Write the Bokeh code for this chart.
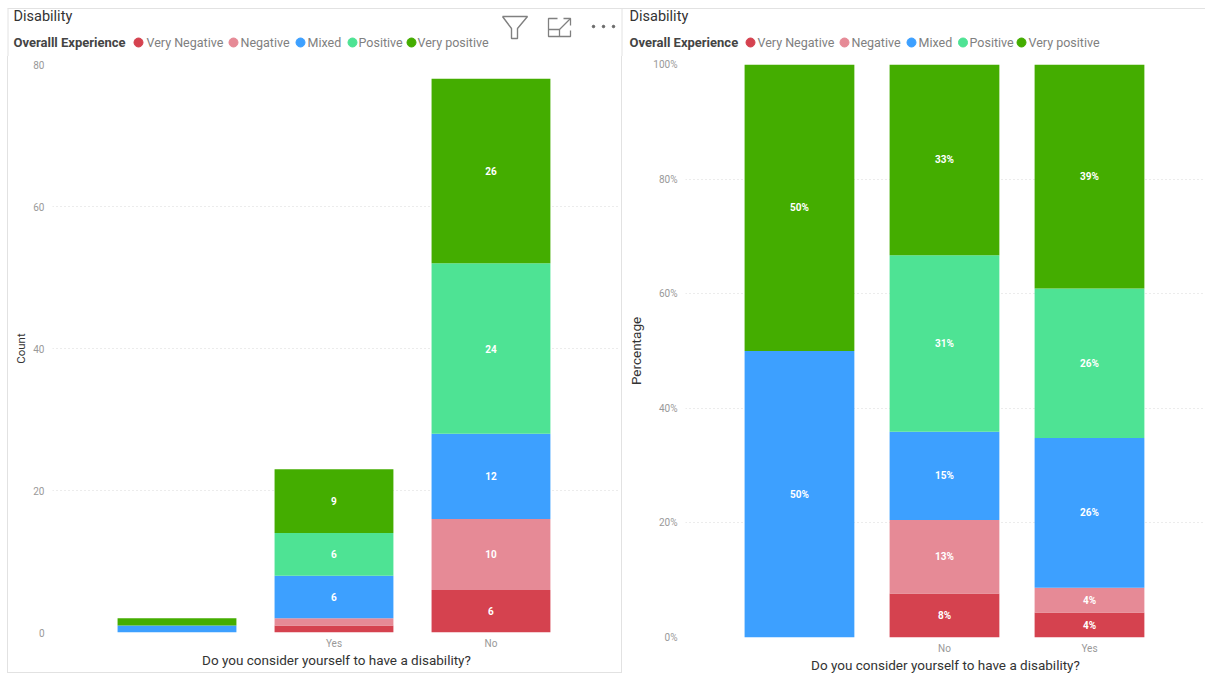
from bokeh.plotting import figure
from bokeh.models import ColumnDataSource, FixedTicker, Range1d, Spacer
from bokeh.layouts import row, column
from bokeh.core.properties import value
from bokeh.embed import file_html
from bokeh.resources import INLINE

series = ["Very Negative", "Negative", "Mixed", "Positive", "Very positive"]
colors = ["#D5424F", "#E68A96", "#3DA0FF", "#4EE394", "#44AD00"]

count_categories = ["", "Yes", "No"]
count_very_negative = [0, 1, 6]
count_negative = [0, 1, 10]
count_mixed = [1, 6, 12]
count_positive = [0, 6, 24]
count_very_positive = [1, 9, 26]
count_ticks = [0, 20, 40, 60, 80]

pct_categories = ["", "No", "Yes"]
pct_very_negative = [0, 7.7, 4.35]
pct_negative = [0, 12.8, 4.35]
pct_mixed = [50, 15.4, 26.1]
pct_positive = [0, 30.8, 26.1]
pct_very_positive = [50, 33.3, 39.1]
pct_ticks = [0, 20, 40, 60, 80, 100]

FONT = "Roboto"
PANEL_LINE = "#e2e2e2"


def chart(cats, stacks, ticks, tick_fmt, ylabel, width, height, left, right_border, bottom, top_max,
          xr, min_label, label_fmt, ylabel_size, ylabel_standoff):
    p = figure(width=width, height=height, output_backend="svg", toolbar_location=None,
               x_range=Range1d(*xr), y_range=Range1d(0, top_max), frame_align=False,
               min_border_left=left, min_border_right=right_border,
               min_border_top=8, min_border_bottom=bottom)
    data = {"x": list(range(len(cats)))}
    for s, vals in zip(series, stacks):
        data[s] = vals
    src = ColumnDataSource(data)
    p.vbar_stack(series, x="x", width=0.757, color=colors, line_width=0, source=src)

    lx, ly, lt = [], [], []
    for i in range(len(cats)):
        b = 0
        for vals in stacks:
            v = vals[i]
            if v >= min_label:
                lx.append(i)
                ly.append(b + v / 2)
                lt.append(label_fmt(v))
            b += v
    p.text(x="x", y="y", text="t", source=ColumnDataSource(dict(x=lx, y=ly, t=lt)),
           text_color="white", text_font=value(FONT), text_font_size="10px", text_font_style="bold",
           text_align="center", text_baseline="middle")

    p.xaxis.ticker = FixedTicker(ticks=data["x"])
    p.xaxis.major_label_overrides = {i: c for i, c in enumerate(cats)}
    p.xaxis.axis_label = "Do you consider yourself to have a disability?"
    p.yaxis.axis_label = ylabel
    p.yaxis.ticker = FixedTicker(ticks=ticks)
    p.yaxis.major_label_overrides = {t: tick_fmt(t) for t in ticks}
    for ax in (p.xaxis, p.yaxis):
        ax.axis_line_color = None
        ax.major_tick_line_color = None
        ax.major_tick_out = 0
        ax.major_tick_in = 0
        ax.minor_tick_line_color = None
        ax.minor_tick_out = 0
        ax.major_label_text_font = FONT
        ax.major_label_text_font_size = "10px"
        ax.major_label_text_color = "#999999"
        ax.axis_label_text_font = FONT
        ax.axis_label_text_font_size = "13.5px"
        ax.axis_label_text_font_style = "normal"
        ax.axis_label_text_color = "#333333"
    p.yaxis.axis_label_text_font_size = ylabel_size
    p.xaxis.major_label_standoff = 5
    p.xaxis.axis_label_standoff = 0
    p.yaxis.major_label_standoff = 8
    p.yaxis.axis_label_standoff = ylabel_standoff
    p.xgrid.visible = False
    p.ygrid.grid_line_color = "#d8d8d8"
    p.ygrid.grid_line_dash = "1 3"
    p.outline_line_color = None
    return p


def header_legend(h, title_x, title, dot_xs, label_xs):
    y = 42
    h.text(x=[title_x], y=[16], text=["Disability"], text_font=value(FONT), text_font_size="14.5px",
           text_color="#333333", text_align="left", text_baseline="middle")
    h.text(x=[title_x], y=[y], text=[title], text_font=value(FONT), text_font_size="13px",
           text_font_style="bold", text_color="#444444", text_align="left", text_baseline="middle")
    h.scatter(x=dot_xs, y=[y] * len(series), marker="circle", size=9, color=colors)
    h.text(x=label_xs, y=[y] * len(series), text=series, text_font=value(FONT), text_font_size="12.5px",
           text_color="#808080", text_align="left", text_baseline="middle")


header = figure(width=1205, height=56, output_backend="svg", toolbar_location=None,
                x_range=Range1d(0, 1205), y_range=Range1d(56, 0),
                min_border=0, min_border_left=0, min_border_right=0, min_border_top=0, min_border_bottom=0)
header.axis.visible = False
header.grid.visible = False
header.outline_line_color = None

header_legend(header, 13, "Overalll Experience", [138, 233, 300, 352, 411], [146, 240, 307, 358, 417])
header_legend(header, 629, "Overall Experience", [750, 844, 911, 962.5, 1021], [757, 851, 918, 969, 1028])

# panel frame lines
header.line([7, 1205], [8, 8], color=PANEL_LINE, line_width=1)
header.line([7.5, 7.5], [8, 56], color=PANEL_LINE, line_width=1)
header.line([621.5, 621.5], [8, 56], color=PANEL_LINE, line_width=1)

# visual header icons (funnel, focus, more)
ICON = "#808080"
header.line([502, 527, 517, 517, 511, 511, 502], [16, 16, 28, 38, 38, 28, 16], color=ICON, line_width=1.4)
header.line([557, 548, 548, 570, 570], [18, 18, 36, 36, 30], color=ICON, line_width=1.3)
header.line([548, 559, 559], [29, 29, 36], color=ICON, line_width=1.3)
header.line([559, 570], [29, 18], color=ICON, line_width=1.3)
header.line([563, 570, 570], [18, 18, 25], color=ICON, line_width=1.3)
header.scatter([593, 603, 613], [26, 26, 26], marker="circle", size=2.5, color="#666666")

left = chart(count_categories,
             [count_very_negative, count_negative, count_mixed, count_positive, count_very_positive],
             count_ticks, str, "Count", 613, 616, 44, 1, 40, 80,
             (-0.793, 2.825), 6, lambda v: str(v), "11.5px", 2)
right = chart(pct_categories,
              [pct_very_negative, pct_negative, pct_mixed, pct_positive, pct_very_positive],
              pct_ticks, lambda t: f"{t}%", "Percentage", 583, 619, 63, 0, 37, 100,
              (-0.786, 2.800), 1, lambda v: f"{round(v)}%", "13.5px", 6)


def rule(w, h):
    return Spacer(width=w, height=h, styles={"background-color": PANEL_LINE})


left_panel = column(left, rule(613, 1), spacing=0)
page = column(header,
              row(Spacer(width=7, height=10), rule(1, 617), left_panel, rule(1, 617), right, spacing=0),
              spacing=0)
open("out.html", "w").write(file_html(page, INLINE))
